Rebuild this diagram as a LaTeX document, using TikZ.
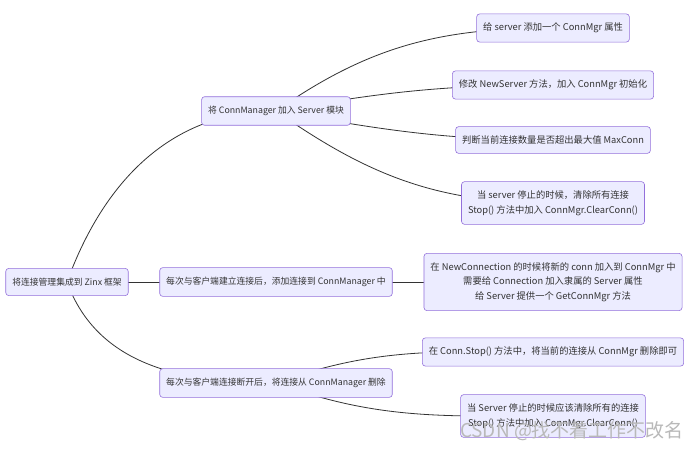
\documentclass[tikz,border=0pt]{standalone}
\usepackage{fontspec}
\setmainfont{Noto Sans CJK SC}
\usetikzlibrary{backgrounds}
\definecolor{boxfill}{HTML}{ECECFF}
\definecolor{boxline}{HTML}{9370DB}
\definecolor{ink}{HTML}{333333}
\tikzset{
  mnode/.style={draw=boxline, fill=boxfill, rounded corners=3pt, line width=0.6pt,
    inner xsep=6.5pt, inner ysep=9.5pt, align=center, text=ink,
    font=\fontsize{8.8}{14.5}\selectfont},
  leaf/.style={mnode, inner ysep=9pt, font=\fontsize{9.3}{14.5}\selectfont},
  link/.style={draw=ink, line width=0.8pt}
}
\begin{document}
\begin{tikzpicture}[x=1pt,y=-1pt]
  \useasboundingbox (0,0) rectangle (700,452);
  %root
  \node[mnode] (root) at (67,282) {将连接管理集成到 Zinx 框架};
  %first level
  \node[mnode] (srv) at (276,111) {将 ConnManager 加入 Server 模块};
  \node[mnode] (add) at (276,282) {每次与客户端建立连接后，添加连接到 ConnManager 中};
  \node[mnode] (del) at (276,383) {每次与客户端连接断开后，将连接从 ConnManager 删除};
  %second level
  \node[leaf] (srv1) at (553,28) {给 server 添加一个 ConnMgr 属性};
  \node[leaf] (srv2) at (553,85) {修改 NewServer 方法，加入 ConnMgr 初始化};
  \node[leaf] (srv3) at (553,140) {判断当前连接数量是否超出最大值 MaxConn};
  \node[leaf] (srv4) at (553,203) {当 server 停止的时候，清除所有连接\\Stop() 方法中加入 ConnMgr.ClearConn()};
  \node[leaf] (add1) at (553,282) {在 NewConnection 的时候将新的 conn 加入到 ConnMgr 中\\需要给 Connection 加入隶属的 Server 属性\\给 Server 提供一个 GetConnMgr 方法};
  \node[leaf] (del1) at (553,352) {在 Conn.Stop() 方法中，将当前的连接从 ConnMgr 删除即可};
  \node[leaf] (del2) at (553,416) {当 Server 停止的时候应该清除所有的连接\\Stop() 方法中加入 ConnMgr.ClearConn()};
  %watermark
  \node[text=gray!55, font=\fontsize{19}{19}\selectfont, inner sep=0pt] (mark) at (572,431) {CSDN @找不着工作不改名};
  \begin{scope}[on background layer]
    \fill[white] (0,0) rectangle (700,452);
    \draw[link] (root.center) to[out=70,in=180] (srv.center);
    \draw[link] (root.center) -- (add.center);
    \draw[link] (root.center) to[out=-70,in=180] (del.center);
    \draw[link] (srv.center) to[out=35,in=180] (srv1.center);
    \draw[link] (srv.center) to[out=10,in=180] (srv2.center);
    \draw[link] (srv.center) to[out=-10,in=180] (srv3.center);
    \draw[link] (srv.center) to[out=-35,in=180] (srv4.center);
    \draw[link] (add.center) -- (add1.center);
    \draw[link] (del.center) to[out=20,in=180] (del1.center);
    \draw[link] (del.center) to[out=-20,in=180] (del2.center);
  \end{scope}
\end{tikzpicture}
\end{document}
